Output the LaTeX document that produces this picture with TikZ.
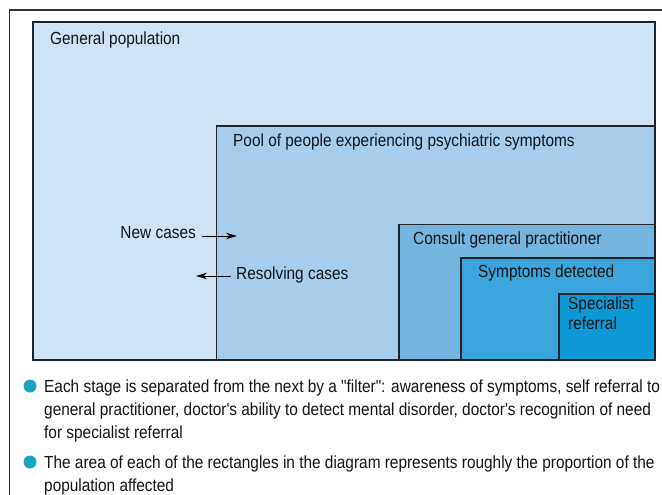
\documentclass[tikz,border=0pt]{standalone}
\usepackage{fontspec}
\setmainfont{Liberation Sans}[FakeStretch=0.88, Ligatures=TeXOff]
\usetikzlibrary{arrows.meta}

\definecolor{genfill}{HTML}{CFE3F5}
\definecolor{poolfill}{HTML}{A6CDEC}
\definecolor{gpfill}{HTML}{73B4E0}
\definecolor{detfill}{HTML}{3AA5DC}
\definecolor{specfill}{HTML}{0D99D6}
\definecolor{edge}{HTML}{1E2328}
\definecolor{bulletc}{HTML}{1AA3C2}
\definecolor{framec}{HTML}{333333}

\tikzset{
  stage/.style={draw=edge, line width=1.1pt},
  label/.style={font=\fontsize{17.5}{20}\selectfont, text=black!92, inner sep=0pt, anchor=west},
  flow/.style={draw=black, line width=1pt, -{Stealth[length=11pt,width=6.5pt,inset=3.5pt]}},
  note/.style={font=\fontsize{17.5}{23}\selectfont, text=black!92, inner sep=0pt, anchor=north west, align=left},
  dot/.style={circle, fill=bulletc, inner sep=0pt, minimum size=13pt}
}

\begin{document}
\begin{tikzpicture}[x=1pt,y=-1pt]
\useasboundingbox (0,0) rectangle (662,495);

% surrounding frame (open to the right and bottom)
\draw[framec, line width=1.3pt] (9.5,495) -- (9.5,10) -- (662,10);

% nested stages
\draw[stage, fill=genfill]  (33,22)     rectangle (655,360);
\draw[stage, fill=poolfill] (216.5,126) rectangle (655,360);
\draw[stage, fill=gpfill]   (399,224.5) rectangle (655,360);
\draw[stage, fill=detfill]  (461,258)   rectangle (655,360);
\draw[stage, fill=specfill] (559,294)   rectangle (655,360);

% stage labels
\node[label] (gen)  at (50,40)   {General population};
\node[label] (pool) at (233,142) {Pool of people experiencing psychiatric symptoms};
\node[label] (gp)   at (413,240) {Consult general practitioner};
\node[label] (det)  at (478,273) {Symptoms detected};
\node[label, align=left, anchor=north west, font=\fontsize{17.5}{20}\selectfont] (spec) at (568,297) {Specialist\\referral};

% flows across the pool boundary
\node[label, anchor=east] (new) at (196,233) {New cases};
\coordinate (newstart) at (202,236);
\coordinate (newend) at (237,236);
\draw[flow] (newstart) -- (newend);

\node[label] (res) at (236,275) {Resolving cases};
\coordinate (resstart) at (231,276);
\coordinate (resend) at (196,276);
\draw[flow] (resstart) -- (resend);

% notes
\node[dot] (b1) at (30,386) {};
\node[note] (n1) at (44,379.5) {Each stage is separated from the next by a "filter": awareness of symptoms, self referral to\\general practitioner, doctor's ability to detect mental disorder, doctor's recognition of need\\for specialist referral};
\node[dot] (b2) at (30,462) {};
\node[note] (n2) at (44,455.5) {The area of each of the rectangles in the diagram represents roughly the proportion of the\\population affected};
\end{tikzpicture}
\end{document}
